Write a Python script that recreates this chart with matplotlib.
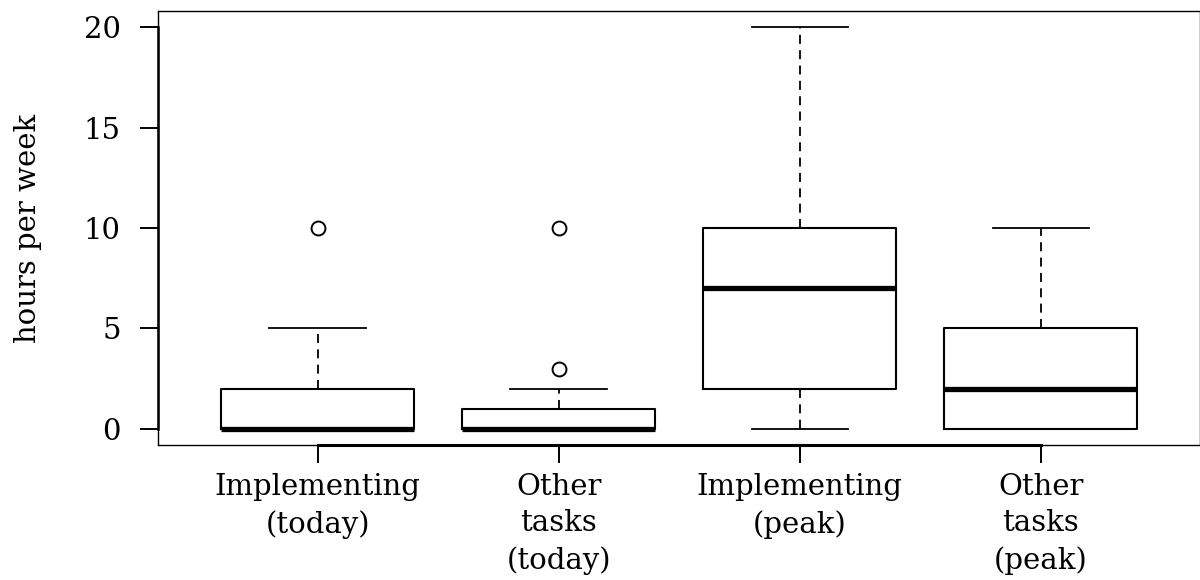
import matplotlib
matplotlib.use("Agg")
import matplotlib.pyplot as plt

# box statistics (hours per week)
labels = ["Implementing\n(today)", "Other\ntasks\n(today)", "Implementing\n(peak)", "Other\ntasks\n(peak)"]
whisker_lo = [0, 0, 0, 0]
q1 = [0, 0, 2, 0]
medians = [0, 0, 7, 2]
q3 = [2, 1, 10, 5]
whisker_hi = [5, 2, 20, 10]
outliers = [[10], [3, 10], [], []]
yticks = [0, 5, 10, 15, 20]

plt.rcParams["font.family"] = ["DejaVu Serif"]
plt.rcParams["font.size"] = 21

stats = []
for i in range(len(labels)):
    stats.append({"whislo": whisker_lo[i], "q1": q1[i], "med": medians[i],
                  "q3": q3[i], "whishi": whisker_hi[i], "fliers": outliers[i]})

fig = plt.figure(figsize=(12, 5.8), dpi=100)
ax = fig.add_axes([0.132, 0.233, 0.868, 0.748])

positions = list(range(1, len(labels) + 1))
ax.bxp(stats, positions=positions, widths=0.8, showfliers=True,
       boxprops=dict(color="black", linewidth=1.5),
       medianprops=dict(color="black", linewidth=3.8, solid_capstyle="butt"),
       whiskerprops=dict(color="black", linewidth=1.3, linestyle=(0, (5, 3.5))),
       capprops=dict(color="black", linewidth=1.3),
       capwidths=0.4,
       flierprops=dict(marker="o", markerfacecolor="none", markeredgecolor="black",
                       markersize=10, markeredgewidth=1.4))

ax.set_xlim(0.34, 4.66)
ax.set_ylim(-0.8, 20.8)
ax.set_xticks(positions)
ax.set_xticklabels(labels, linespacing=1.4)
ax.set_yticks(yticks)
ax.set_ylabel("hours per week", labelpad=30)

for s in ax.spines.values():
    s.set_linewidth(1.0)

# R-style axis lines spanning the tick range
ax.plot([positions[0], positions[-1]], [-0.8, -0.8], color="black", lw=2.2, clip_on=False)
ax.plot([0.34, 0.34], [yticks[0], yticks[-1]], color="black", lw=1.8, clip_on=False)

ax.tick_params(axis="both", length=13, width=1.4, color="black")
ax.tick_params(axis="x", pad=7)
ax.tick_params(axis="y", pad=14)

fig.savefig("out.png", dpi=100)
